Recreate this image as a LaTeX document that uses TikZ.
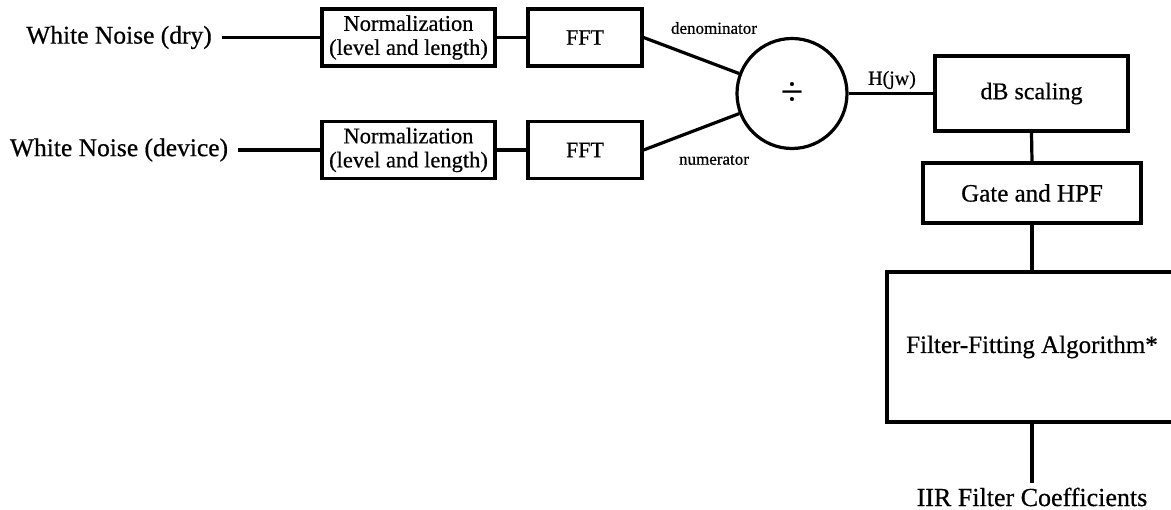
\documentclass[tikz,border=0pt]{standalone}
\usepackage{fontspec}
\setmainfont{Liberation Serif}[UprightFeatures={FakeBold=0.6}]
\usetikzlibrary{positioning,calc}

\begin{document}
\begin{tikzpicture}[
    x=1pt, y=-1pt,
    wire/.style={line width=3.2pt},
    block/.style={
        rectangle,
        draw=black,
        line width=3.2pt,
        inner sep=0pt,
        align=center
    },
    source/.style={
        inner xsep=10pt,
        inner ysep=0pt,
        font=\fontsize{25.5}{28}\selectfont
    },
    small/.style={font=\fontsize{17}{20}\selectfont}
]

% page frame (the filter box runs past the right edge)
\clip (0,0) rectangle (1171,510);

% --- inputs ---
\node[source] (dry)    at (119,37.5) {White Noise (dry)};
\node[source] (device) at (119,150)  {White Noise (device)};

% --- normalization + FFT chains ---
\node[block, minimum width=173pt, minimum height=57pt,
      font=\fontsize{22.5}{24}\selectfont] (norma) at (408.5,37.5) {Normalization\\(level and length)};
\node[block, minimum width=173pt, minimum height=57pt,
      font=\fontsize{22.5}{24}\selectfont] (normb) at (408.5,150) {Normalization\\(level and length)};

\node[block, minimum width=114pt, minimum height=57pt,
      font=\fontsize{22}{24}\selectfont] (ffta) at (585,37.5) {FFT};
\node[block, minimum width=114pt, minimum height=57pt,
      font=\fontsize{22}{24}\selectfont] (fftb) at (585,150) {FFT};

% divider
\node[circle, draw=black, line width=3.2pt, minimum size=110pt, inner sep=0pt,
      font=\fontsize{40}{42}\selectfont] (div) at (792,93.5) {÷};

% --- right column ---
\node[block, minimum width=193pt, minimum height=75pt,
      font=\fontsize{24}{26}\selectfont] (db) at (1031.5,93.5) {dB scaling};
\node[block, minimum width=218pt, minimum height=60pt,
      font=\fontsize{25}{27}\selectfont] (gate) at (1032,193) {Gate and HPF};
\node[block, minimum width=290pt, minimum height=150pt,
      font=\fontsize{25}{27}\selectfont] (fit) at (1032,347) {Filter-Fitting Algorithm*};
\node[inner xsep=2pt, inner ysep=5pt, font=\fontsize{26}{28}\selectfont] (iir) at (1032,497) {IIR Filter Coefficients};

% connectors
\draw[wire] (dry.east) -- (norma.west);
\draw[wire] (device.east) -- (normb.west);
\draw[wire] (norma.east) -- (ffta.west);
\draw[wire] (normb.east) -- (fftb.west);
\draw[wire] (ffta.east) -- (div);
\draw[wire] (fftb.east) -- (div);
\draw[wire] (div.east) -- (db.west);
\draw[wire] (db.south) -- (gate.north);
\draw[wire] (gate.south) -- (fit.north);
\draw[wire] (fit.south) -- (iir.north);

% line labels
\node[small] (den) at (714,28)  {denominator};
\node[small] (num) at (714,160) {numerator};
\node[font=\fontsize{20}{22}\selectfont] (hjw) at (892,80) {H(jw)};

\end{tikzpicture}
\end{document}
